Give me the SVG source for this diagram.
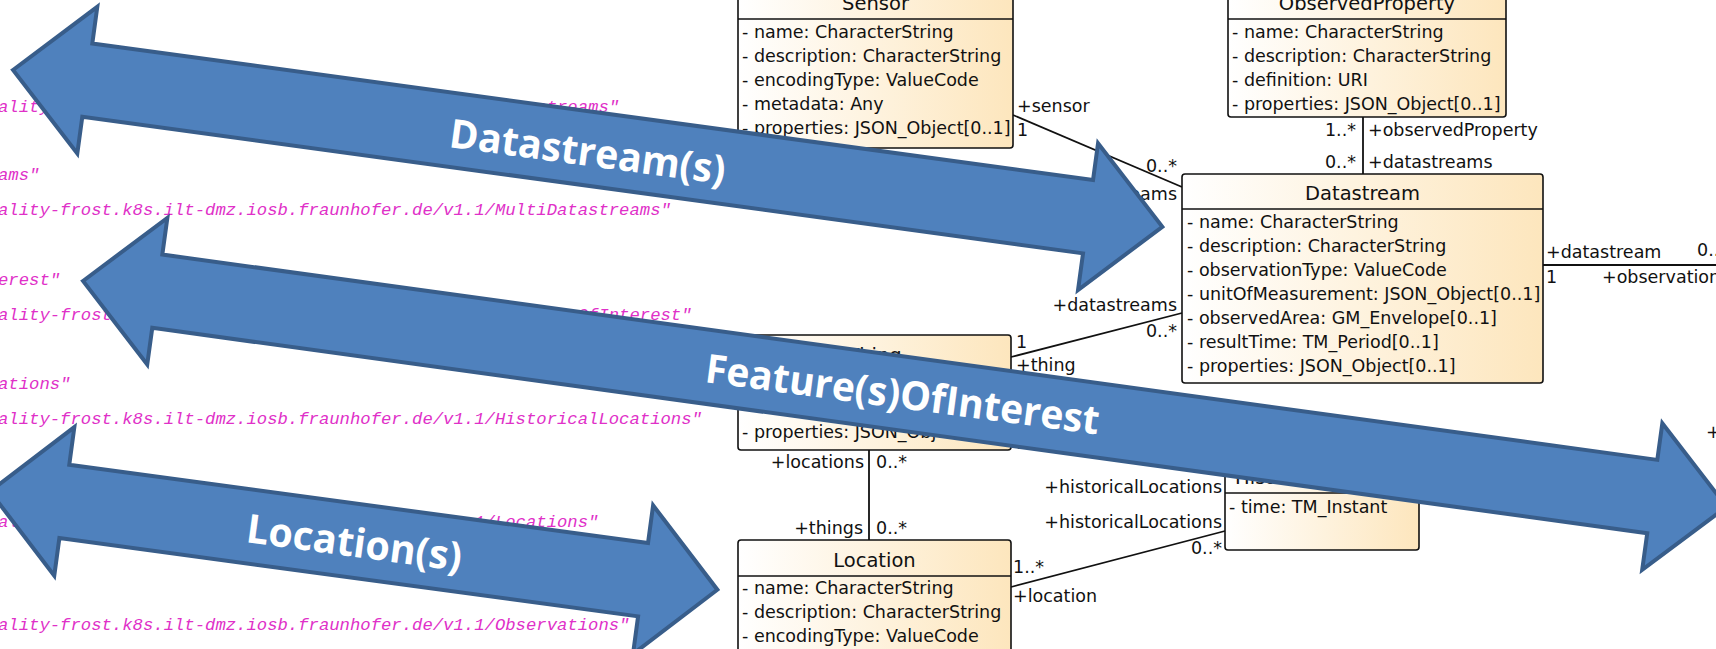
<svg xmlns="http://www.w3.org/2000/svg" width="1716" height="649" viewBox="0 0 1716 649">
<defs>
<linearGradient id="boxfill" x1="0" y1="0" x2="1" y2="0">
<stop offset="0" stop-color="#ffffff"/>
<stop offset="1" stop-color="#fde6bd"/>
</linearGradient>
<style>
.code{font-family:"Liberation Mono","DejaVu Sans Mono",monospace;font-style:italic;font-size:17.25px;fill:#e030c8}
.box{fill:url(#boxfill);stroke:#111;stroke-width:1.6}
.sep{stroke:#111;stroke-width:1.6}
.title{font-family:"DejaVu Sans",sans-serif;font-size:19.5px;fill:#111;text-anchor:middle}
.attr{font-family:"DejaVu Sans",sans-serif;font-size:17.5px;fill:#111}
.lbl{font-family:"DejaVu Sans",sans-serif;font-size:17.5px;fill:#111}
.end{text-anchor:end}
.conn{stroke:#111;stroke-width:1.8;fill:none}
.arrow{fill:#4f81bd;stroke:#385d8a;stroke-width:4;stroke-linejoin:miter}
.atext{font-family:"Open Sans","Noto Sans",sans-serif;font-weight:bold;font-size:40px;fill:#ffffff}
</style>
</defs>
<rect width="1716" height="649" fill="#ffffff"/>

<g id="code-listing">
<text class="code" x="-2" y="112">ality-frost.k8s.ilt-dmz.iosb.fraunhofer.de/v1.1/Datastreams"</text>
<text class="code" x="-2" y="180">ams"</text>
<text class="code" x="-2" y="215">ality-frost.k8s.ilt-dmz.iosb.fraunhofer.de/v1.1/MultiDatastreams"</text>
<text class="code" x="-2" y="285">erest"</text>
<text class="code" x="-2" y="320">ality-frost.k8s.ilt-dmz.iosb.fraunhofer.de/v1.1/FeaturesOfInterest"</text>
<text class="code" x="-2" y="389">ations"</text>
<text class="code" x="-2" y="424">ality-frost.k8s.ilt-dmz.iosb.fraunhofer.de/v1.1/HistoricalLocations"</text>
<text class="code" x="-2" y="527">ality-frost.k8s.ilt-dmz.iosb.fraunhofer.de/v1.1/Locations"</text>
<text class="code" x="-2" y="630">ality-frost.k8s.ilt-dmz.iosb.fraunhofer.de/v1.1/Observations"</text>
</g>

<g id="connectors">
<line class="conn" x1="1013" y1="115" x2="1182" y2="187"/>
<text class="lbl" x="1017" y="112">+sensor</text>
<text class="lbl" x="1017" y="136">1</text>
<text class="lbl end" x="1177" y="172">0..*</text>
<text class="lbl end" x="1177" y="200">+datastreams</text>

<line class="conn" x1="1363" y1="117" x2="1363" y2="174"/>
<text class="lbl end" x="1356" y="136">1..*</text>
<text class="lbl" x="1368" y="136">+observedProperty</text>
<text class="lbl end" x="1356" y="168">0..*</text>
<text class="lbl" x="1368" y="168">+datastreams</text>

<line class="conn" x1="1011" y1="357" x2="1182" y2="313"/>
<text class="lbl" x="1016" y="348">1</text>
<text class="lbl" x="1016" y="371">+thing</text>
<text class="lbl end" x="1177" y="311">+datastreams</text>
<text class="lbl end" x="1177" y="337">0..*</text>

<line class="conn" x1="869" y1="450" x2="869" y2="552"/>
<text class="lbl end" x="864" y="468">+locations</text>
<text class="lbl" x="876" y="468">0..*</text>
<text class="lbl end" x="863" y="534">+things</text>
<text class="lbl" x="876" y="534">0..*</text>

<line class="conn" x1="1011" y1="436" x2="1225" y2="470"/>
<text class="lbl" x="1016" y="449">1</text>
<text class="lbl end" x="1222" y="493">+historicalLocations</text>

<line class="conn" x1="1011" y1="587" x2="1225" y2="531"/>
<text class="lbl" x="1013" y="573">1..*</text>
<text class="lbl" x="1013" y="602">+location</text>
<text class="lbl end" x="1222" y="528">+historicalLocations</text>
<text class="lbl end" x="1222" y="554">0..*</text>

<line class="conn" x1="1543" y1="265" x2="1716" y2="265"/>
<text class="lbl" x="1546" y="258">+datastream</text>
<text class="lbl" x="1546" y="283">1</text>
<text class="lbl" x="1602" y="283">+observation</text>
<text class="lbl" x="1697" y="256">0..</text>
<text class="lbl" x="1706" y="438">+</text>
</g>

<g id="Sensor">
<rect class="box" x="738" y="-16" width="275" height="164" rx="3"/>
<line class="sep" x1="738" y1="19" x2="1013" y2="19"/>
<text class="title" x="875.5" y="10">Sensor</text>
<text class="attr" x="742" y="38">- name: CharacterString</text>
<text class="attr" x="742" y="62">- description: CharacterString</text>
<text class="attr" x="742" y="86">- encodingType: ValueCode</text>
<text class="attr" x="742" y="110">- metadata: Any</text>
<text class="attr" x="742" y="134">- properties: JSON_Object[0..1]</text>
</g>

<g id="ObservedProperty">
<rect class="box" x="1228" y="-16" width="278" height="133" rx="3"/>
<line class="sep" x1="1228" y1="19" x2="1506" y2="19"/>
<text class="title" x="1367" y="10">ObservedProperty</text>
<text class="attr" x="1232" y="38">- name: CharacterString</text>
<text class="attr" x="1232" y="62">- description: CharacterString</text>
<text class="attr" x="1232" y="86">- definition: URI</text>
<text class="attr" x="1232" y="110">- properties: JSON_Object[0..1]</text>
</g>

<g id="Datastream">
<rect class="box" x="1182" y="174" width="361" height="209" rx="3"/>
<line class="sep" x1="1182" y1="209" x2="1543" y2="209"/>
<text class="title" x="1362.5" y="200">Datastream</text>
<text class="attr" x="1187" y="228">- name: CharacterString</text>
<text class="attr" x="1187" y="252">- description: CharacterString</text>
<text class="attr" x="1187" y="276">- observationType: ValueCode</text>
<text class="attr" x="1187" y="300">- unitOfMeasurement: JSON_Object[0..1]</text>
<text class="attr" x="1187" y="324">- observedArea: GM_Envelope[0..1]</text>
<text class="attr" x="1187" y="348">- resultTime: TM_Period[0..1]</text>
<text class="attr" x="1187" y="372">- properties: JSON_Object[0..1]</text>
</g>

<g id="Thing">
<rect class="box" x="738" y="335" width="273" height="115" rx="3"/>
<line class="sep" x1="738" y1="371" x2="1011" y2="371"/>
<text class="title" x="874.5" y="362">Thing</text>
<text class="attr" x="742" y="438">- properties: JSON_Object[0..1]</text>
</g>

<g id="Location">
<rect class="box" x="738" y="540" width="273" height="140" rx="3"/>
<line class="sep" x1="738" y1="576" x2="1011" y2="576"/>
<text class="title" x="874.5" y="567">Location</text>
<text class="attr" x="742" y="594">- name: CharacterString</text>
<text class="attr" x="742" y="618">- description: CharacterString</text>
<text class="attr" x="742" y="642">- encodingType: ValueCode</text>
</g>

<g id="HistoricalLocation">
<rect class="box" x="1225" y="458" width="194" height="92" rx="3"/>
<line class="sep" x1="1225" y1="493" x2="1419" y2="493"/>
<text class="title" x="1322" y="484">HistoricalLocation</text>
<text class="attr" x="1229" y="513">- time: TM_Instant</text>
</g>

<g id="arrow-datastreams">
<path class="arrow" transform="translate(13,70) rotate(7.77)" d="M0,0 L75,-74 L75,-37 L1085,-37 L1085,-74 L1160,0 L1085,74 L1085,37 L75,37 L75,74 Z"/>
<text class="atext" transform="translate(448,147) rotate(7.7)" textLength="278" lengthAdjust="spacingAndGlyphs">Datastream(s)</text>
</g>

<g id="arrow-features">
<path class="arrow" transform="translate(83,281) rotate(7.82)" d="M0,0 L75,-74 L75,-37 L1584,-37 L1584,-74 L1659,0 L1584,74 L1584,37 L75,37 L75,74 Z"/>
<text class="atext" transform="translate(704,382) rotate(7.6)" textLength="397" lengthAdjust="spacingAndGlyphs">Feature(s)OfInterest</text>
</g>

<g id="arrow-locations">
<path class="arrow" transform="translate(-10,491.4) rotate(7.7)" d="M0,0 L75,-75 L75,-37 L659,-37 L659,-75 L734,0 L659,75 L659,37 L75,37 L75,75 Z"/>
<text class="atext" transform="translate(245,542) rotate(7.7)" textLength="217" lengthAdjust="spacingAndGlyphs">Location(s)</text>
</g>
</svg>
